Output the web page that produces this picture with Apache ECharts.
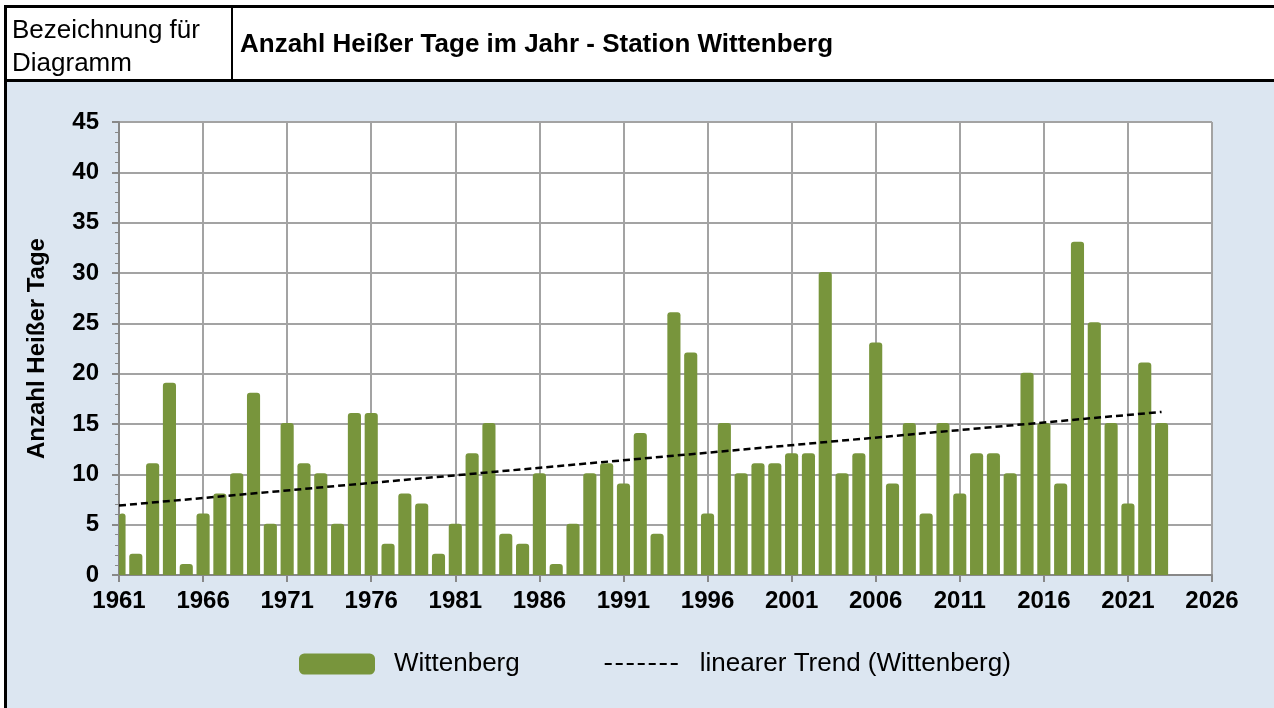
<!DOCTYPE html>
<html>
<head>
<meta charset="utf-8">
<script src="https://cdn.jsdelivr.net/npm/echarts@6/dist/echarts.min.js"></script>
<style>
  html, body { margin: 0; padding: 0; background: #fff; }
  #main { width: 1274px; height: 708px; }
</style>
</head>
<body>
<div id="main"></div>
<script>
var years = [];
for (var y = 1961; y <= 2023; y++) years.push(y);
var hotDays = [
  6, 2, 11, 19, 1, 6, 8, 10, 18, 5,
  15, 11, 10, 5, 16, 16, 3, 8, 7, 2,
  5, 12, 15, 4, 3, 10, 1, 5, 10, 11,
  9, 14, 4, 26, 22, 6, 15, 10, 11, 11,
  12, 12, 30, 10, 12, 23, 9, 15, 6, 15,
  8, 12, 12, 10, 20, 15, 9, 33, 25, 15,
  7, 21, 15
];
// Endpunkte der Trendlinie
var trendYears = [1961, 2023];
var trendValues = [6.9, 16.2];

var barData = years.map(function (yr, i) { return [yr, hotDays[i]]; });
var trendData = trendYears.map(function (yr, i) { return [yr, trendValues[i]]; });

var domDiv = document.getElementById('main');
var myChart = echarts.init(domDiv);

var font = 'Arial, "Liberation Sans", sans-serif';
var gridColor = '#a3a3a3';
var barColor = '#78953c';

// Balken selbst zeichnen, damit sie am Plotrand abgeschnitten werden (1961)
function renderBar(params, api) {
  var top = api.coord([api.value(0), api.value(1)]);
  var base = api.coord([api.value(0), 0]);
  var w = api.size([1, 0])[0] * 0.78;
  var cs = params.coordSys;
  var rect = echarts.graphic.clipRectByRect(
    { x: top[0] - w / 2, y: top[1] - 1, width: w, height: base[1] - top[1] + 1 },
    { x: cs.x, y: cs.y, width: cs.width, height: cs.height }
  );
  if (!rect) return;
  return {
    type: 'rect',
    shape: { x: rect.x, y: rect.y, width: rect.width, height: rect.height, r: [3, 3, 0, 0] },
    style: { fill: barColor }
  };
}

var option = {
  animation: false,
  backgroundColor: '#fff',
  textStyle: { fontFamily: font },
  graphic: [
    { type: 'rect', z: -10, shape: { x: 6, y: 81, width: 1268, height: 627 }, style: { fill: '#dce6f1' } },
    { type: 'line', shape: { x1: 4, y1: 6.5, x2: 1274, y2: 6.5 }, style: { stroke: '#000', lineWidth: 3 } },
    { type: 'line', shape: { x1: 4, y1: 80.5, x2: 1274, y2: 80.5 }, style: { stroke: '#000', lineWidth: 3 } },
    { type: 'line', shape: { x1: 5.5, y1: 5, x2: 5.5, y2: 708 }, style: { stroke: '#000', lineWidth: 3 } },
    { type: 'line', shape: { x1: 232, y1: 6, x2: 232, y2: 80 }, style: { stroke: '#000', lineWidth: 2 } },
    { type: 'text', x: 12, y: 14, style: { text: 'Bezeichnung für\nDiagramm', font: '26px ' + font, lineHeight: 33, fill: '#000' } },
    { type: 'text', x: 240, y: 32, style: { text: 'Anzahl Heißer Tage im Jahr - Station Wittenberg', font: 'bold 26px ' + font, fill: '#000' } }
  ],
  grid: { left: 119, right: 62, top: 122, bottom: 133, backgroundColor: '#fff', show: true, borderWidth: 0 },
  legend: {
    left: 299,
    top: 651,
    padding: 0,
    itemWidth: 76,
    itemHeight: 21,
    itemGap: 84,
    textStyle: { fontSize: 26, color: '#000', fontFamily: font, padding: [0, 0, 0, 14] },
    data: [
      { name: 'Wittenberg', icon: 'roundRect', itemStyle: { color: barColor } },
      { name: 'linearer Trend (Wittenberg)', itemStyle: { opacity: 0 } }
    ]
  },
  xAxis: {
    type: 'value',
    min: 1961,
    max: 2026,
    interval: 5,
    axisLine: { show: true, onZero: false, lineStyle: { color: '#888', width: 2 } },
    axisTick: { show: true, length: 7, lineStyle: { color: '#888', width: 2 } },
    axisLabel: {
      fontSize: 24, fontWeight: 'bold', color: '#000', margin: 14, fontFamily: font,
      formatter: function (v) { return String(v); }
    },
    splitLine: { show: true, lineStyle: { color: gridColor, width: 2 } }
  },
  yAxis: {
    type: 'value',
    min: 0,
    max: 45,
    interval: 5,
    name: 'Anzahl Heißer Tage',
    nameLocation: 'middle',
    nameRotate: 90,
    nameGap: 70,
    nameTextStyle: { fontSize: 24, fontWeight: 'bold', color: '#000', fontFamily: font },
    axisLine: { show: true, lineStyle: { color: '#888', width: 2 } },
    axisTick: { show: true, length: 7, lineStyle: { color: '#888', width: 2 } },
    minorTick: { show: true, splitNumber: 5, length: 4, lineStyle: { color: '#888', width: 1 } },
    axisLabel: { fontSize: 24, fontWeight: 'bold', color: '#000', margin: 20, fontFamily: font },
    splitLine: { show: true, lineStyle: { color: gridColor, width: 2 } }
  },
  series: [
    {
      name: 'Wittenberg',
      type: 'custom',
      renderItem: renderBar,
      data: barData,
      encode: { x: 0, y: 1 },
      itemStyle: { color: barColor },
      z: 2
    },
    {
      name: 'linearer Trend (Wittenberg)',
      type: 'line',
      data: trendData,
      symbol: 'none',
      lineStyle: { color: '#000', width: 2.5, type: [7, 4] },
      itemStyle: { color: '#000' },
      z: 3
    }
  ]
};
myChart.setOption(option);
window.onresize = function () {
  myChart.resize();
};
</script>
</body>
</html>
